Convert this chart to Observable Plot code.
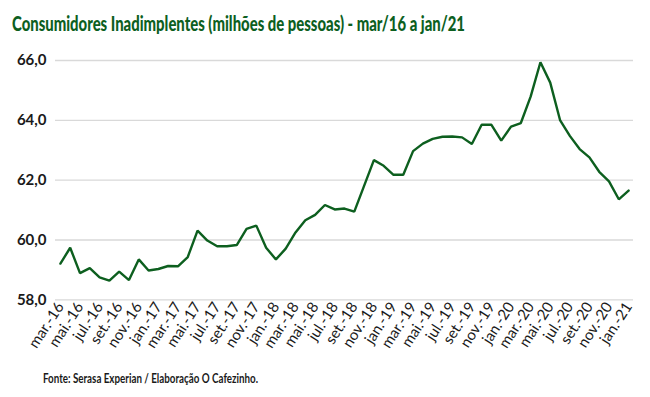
<!DOCTYPE html>
<html><head><meta charset="utf-8">
<script src="https://cdn.jsdelivr.net/npm/d3@7"></script>
<script src="https://cdn.jsdelivr.net/npm/@observablehq/plot@0.6"></script>
<style>
body{margin:0;background:#fff;font-family:Lato,"Noto Sans",sans-serif;width:650px;height:397px;overflow:hidden;}
#title{height:44px;position:relative;}
#title span{position:absolute;left:12px;top:12px;font-size:21px;font-weight:900;color:#0d5f1f;white-space:nowrap;transform-origin:0 0;line-height:1;}
#chart svg{display:block;}
#caption{position:relative;height:28px;}
#caption span{position:absolute;left:43px;top:2px;font-size:14px;font-weight:bold;color:#1a1a1a;white-space:nowrap;transform-origin:0 0;line-height:1;}
</style></head>
<body>
<div id="title"><span>Consumidores Inadimplentes (milhões de pessoas) - mar/16 a jan/21</span></div>
<div id="chart"></div>
<div id="caption"><span>Fonte: Serasa Experian / Elaboração O Cafezinho.</span></div>
<script>
const months = [
  "mar.-16","abr.-16","mai.-16","jun.-16","jul.-16","ago.-16","set.-16","out.-16","nov.-16","dez.-16",
  "jan.-17","fev.-17","mar.-17","abr.-17","mai.-17","jun.-17","jul.-17","ago.-17","set.-17","out.-17","nov.-17","dez.-17",
  "jan.-18","fev.-18","mar.-18","abr.-18","mai.-18","jun.-18","jul.-18","ago.-18","set.-18","out.-18","nov.-18","dez.-18",
  "jan.-19","fev.-19","mar.-19","abr.-19","mai.-19","jun.-19","jul.-19","ago.-19","set.-19","out.-19","nov.-19","dez.-19",
  "jan.-20","fev.-20","mar.-20","abr.-20","mai.-20","jun.-20","jul.-20","ago.-20","set.-20","out.-20","nov.-20","dez.-20",
  "jan.-21"
];
const values = [
  59.21,59.74,58.89,59.06,58.75,58.64,58.94,58.66,59.35,58.98,
  59.03,59.13,59.12,59.43,60.31,59.98,59.79,59.79,59.83,60.37,60.48,59.74,
  59.35,59.71,60.25,60.66,60.84,61.17,61.02,61.05,60.95,61.81,62.67,62.48,
  62.18,62.18,62.97,63.22,63.38,63.45,63.46,63.43,63.21,63.85,63.85,63.32,
  63.79,63.91,64.79,65.94,65.26,64.01,63.48,63.04,62.76,62.28,61.96,61.36,
  61.65
];
const yTicks = [58, 60, 62, 64, 66];
const xTicks = months.filter((d, i) => i % 2 === 0);

const data = months.map((m, i) => ({month: m, value: values[i]}));

const chart = Plot.plot({
  width: 650,
  height: 325,
  marginLeft: 55,
  marginRight: 17,
  marginTop: 16,
  marginBottom: 69.7,
  style: {fontFamily: "Lato, 'Noto Sans', sans-serif", background: "#fff"},
  x: {type: "point", domain: months, padding: 0.5},
  y: {domain: [58, 66]},
  marks: [
    Plot.gridY(yTicks, {stroke: "#d9d9d9", strokeOpacity: 1, strokeWidth: 1.3}),
    Plot.axisY(yTicks, {tickSize: 0, tickPadding: 9, fontSize: 15, fontWeight: "bold", fill: "#1a1a1a",
      tickFormat: d => d.toFixed(1).replace(".", ","), label: null}),
    Plot.axisX(xTicks, {tickSize: 0, tickPadding: 4, tickRotate: -57, fontSize: 15, fill: "#1a1a1a", label: null}),
    Plot.line(data, {x: "month", y: "value", stroke: "#0d5f1f", strokeWidth: 2.4, strokeLinejoin: "miter"})
  ]
});
document.getElementById("chart").appendChild(chart);

function fit(sel, target) {
  const el = document.querySelector(sel);
  const w = el.getBoundingClientRect().width;
  el.style.transform = `scaleX(${target / w})`;
}
fit("#title span", 453);
fit("#caption span", 215);
</script>
</body></html>
